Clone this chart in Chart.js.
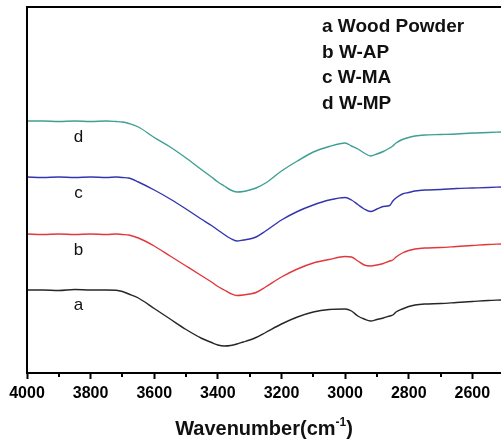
<!DOCTYPE html>
<html>
<head>
<meta charset="utf-8">
<script src="https://cdn.jsdelivr.net/npm/chart.js@4/dist/chart.umd.min.js"></script>
<style>
  html, body { margin: 0; padding: 0; background: #fff; }
  #wrap { width: 501px; height: 440px; position: relative; }
</style>
</head>
<body>
<div id="wrap"><canvas id="c" width="501" height="440"></canvas></div>
<script>
// Wavenumbers (cm-1)
const wavenumbers = [4000,3950,3900,3850,3800,3750,3720,3700,3680,3650,3600,3550,3500,3450,3420,3400,3380,3360,3340,3320,3300,3280,3250,3200,3150,3100,3050,3000,2980,2960,2940,2920,2900,2880,2860,2850,2840,2820,2800,2780,2750,2700,2650,2600,2550,2510];

// Transmittance (arbitrary units, stacked)
const woodPowder = [83,83,82.5,83.5,83,83,82.8,81.5,79,75,64.5,54,43.5,34.5,30.5,28,27,27.5,29,31,33,35.5,40.5,49,56,61,63.5,64,62,57,54,52,53.5,55,57,58,61,64,66.5,68,69,69.5,70.5,71.5,72.5,73];
const wAP = [139,138.5,139,138.5,139,138.5,139,138.5,138,135,127,117,107,97,91,86.5,83,79.5,77.5,78,79,80.5,86,96,104,110,113.5,116.5,116,112,108,107,108,109.5,112,113,116,120,122.5,124,125,125.5,126.5,127.5,128.5,129];
const wMA = [196,195.5,196,195.5,196,195.5,196,195.5,195,191,183,174,164,153.5,147.5,143,138.5,134.5,132,133,134,136,142,153,161.5,168,173,175.5,173,168.5,164,161.5,164,166.5,167.5,172,175,179,180.5,182,183,183.5,184.5,185,185.5,186];
const wMP = [252,252,251.5,252,251.5,252,251.5,251,249.5,246,235.5,226,215,203,196,191,187,183,181,181.5,183,185,190,202,212,221,226.5,230,227,224,220,217,219,221.5,225,227,230,233.5,235.5,237,238,238.5,239,240,240.5,241];

// Tick values (every 100, labelled every 200)
const tickValues = [4000,3900,3800,3700,3600,3500,3400,3300,3200,3100,3000,2900,2800,2700,2600];

// Legend and curve labels
const legendLines = ['a Wood Powder', 'b W-AP', 'c W-MA', 'd W-MP'];
const curveLetters = ['a', 'b', 'c', 'd'];
const curveLetterY = [68, 123, 180, 236];   // label anchor in y units
const curveLetterX = 3838;                  // label anchor in wavenumber

const series = [woodPowder, wAP, wMA, wMP];
const colors = ['#262626', '#e0383c', '#3434b0', '#3f9f94'];

const FONT = "'Liberation Sans', Arial, Helvetica, sans-serif";

const decor = {
  id: 'decor',
  afterDraw(chart) {
    const ctx = chart.ctx;
    const ca = chart.chartArea;
    const xs = chart.scales.x, ys = chart.scales.y;
    ctx.save();
    ctx.strokeStyle = '#000';
    ctx.lineWidth = 2;
    ctx.beginPath();
    ctx.moveTo(ca.left, ca.bottom);
    ctx.lineTo(ca.left, ca.top);
    ctx.lineTo(chart.width, ca.top);
    ctx.stroke();
    tickValues.forEach(v => {
      if (v % 200 !== 0) {
        const px = Math.round(xs.getPixelForValue(v));
        ctx.beginPath();
        ctx.moveTo(px, ca.bottom);
        ctx.lineTo(px, ca.bottom + 4);
        ctx.stroke();
      }
    });
    ctx.fillStyle = '#111';
    ctx.font = '17px ' + FONT;
    ctx.textAlign = 'center';
    ctx.textBaseline = 'middle';
    curveLetters.forEach((t, i) => {
      ctx.fillText(t, xs.getPixelForValue(curveLetterX), ys.getPixelForValue(curveLetterY[i]));
    });
    ctx.font = 'bold 19px ' + FONT;
    ctx.textAlign = 'left';
    ctx.textBaseline = 'alphabetic';
    legendLines.forEach((t, i) => {
      ctx.fillText(t, ca.left + 295, ca.top + 25 + i * 25.5);
    });
    const main = 'Wavenumber(cm';
    const sup = '-1';
    const close = ')';
    ctx.font = 'bold 20px ' + FONT;
    const wMain = ctx.measureText(main).width;
    const wClose = ctx.measureText(close).width;
    ctx.font = 'bold 12px ' + FONT;
    const wSup = ctx.measureText(sup).width;
    const total = wMain + wSup + wClose;
    const cx = (ca.left + ca.right) / 2;
    const x0 = cx - total / 2;
    const base = 435;
    ctx.font = 'bold 20px ' + FONT;
    ctx.fillText(main, x0, base);
    ctx.font = 'bold 12px ' + FONT;
    ctx.fillText(sup, x0 + wMain, base - 9);
    ctx.font = 'bold 20px ' + FONT;
    ctx.fillText(close, x0 + wMain + wSup, base);
    ctx.restore();
  }
};

new Chart(document.getElementById('c'), {
  type: 'line',
  data: {
    datasets: series.map((s, i) => ({
      label: legendLines[i],
      data: wavenumbers.map((w, j) => ({ x: w, y: s[j] })),
      borderColor: colors[i],
      borderWidth: 1.4,
      pointRadius: 0,
      cubicInterpolationMode: 'monotone',
      fill: false
    }))
  },
  options: {
    responsive: false,
    animation: false,
    layout: { padding: { left: 27, top: 7, right: 0, bottom: 0 } },
    plugins: { legend: { display: false }, tooltip: { enabled: false } },
    scales: {
      x: {
        type: 'linear',
        reverse: true,
        min: 2510,
        max: 4000,
        afterBuildTicks: s => { s.ticks = tickValues.map(v => ({ value: v })); },
        afterFit: s => { s.height = 67; },
        ticks: {
          autoSkip: false,
          maxRotation: 0,
          padding: 5,
          color: '#000',
          font: { family: FONT, size: 16, weight: 'bold' },
          callback: v => (v % 200 === 0 ? String(v) : '')
        },
        grid: {
          drawOnChartArea: false,
          drawTicks: true,
          tickLength: 6,
          tickWidth: 2,
          tickColor: c => (c.tick && c.tick.value % 200 === 0 ? '#000' : 'rgba(0,0,0,0)')
        },
        border: { display: true, color: '#000', width: 2 },
        title: { display: false }
      },
      y: {
        display: false,
        min: 0,
        max: 366
      }
    }
  },
  plugins: [decor]
});
</script>
</body>
</html>
